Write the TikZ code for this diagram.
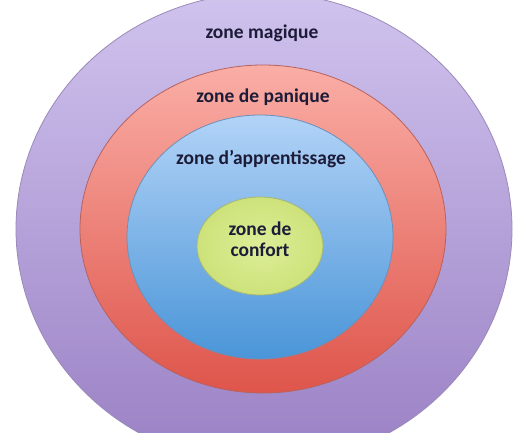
\documentclass[tikz,border=0pt]{standalone}
\usepackage{fontspec}
\setmainfont{Carlito}
\definecolor{purpleTop}{HTML}{D0C3EE}
\definecolor{purpleBot}{HTML}{9A80C4}
\definecolor{purpleEdge}{HTML}{9A8AB8}
\definecolor{redTop}{HTML}{FAAEA6}
\definecolor{redBot}{HTML}{DE554B}
\definecolor{redEdge}{HTML}{B8625E}
\definecolor{blueTop}{HTML}{B2D3F7}
\definecolor{blueBot}{HTML}{4A95D8}
\definecolor{blueEdge}{HTML}{6E8FB8}
\definecolor{greenIn}{HTML}{DDEE98}
\definecolor{greenOut}{HTML}{CDE27A}
\definecolor{greenEdge}{HTML}{A8B870}
\definecolor{labelText}{HTML}{1C1C38}
\tikzset{
  zonelabel/.style={font=\bfseries\fontsize{19.5}{21}\selectfont, text=labelText, inner sep=0pt, align=center},
  zoneedge/.style={line width=0.8pt}
}
\begin{document}
\begin{tikzpicture}[x=1pt,y=-1pt]
\useasboundingbox (0,0) rectangle (522,433);
\clip (0,0) rectangle (522,433);
\fill[white] (0,0) rectangle (522,433);
\shade[top color=purpleTop, bottom color=purpleBot, draw=purpleEdge, zoneedge] (264,229) ellipse [x radius=248, y radius=236];
\shade[top color=redTop, bottom color=redBot, draw=redEdge, zoneedge] (263,229) ellipse [x radius=183, y radius=164];
\shade[top color=blueTop, bottom color=blueBot, draw=blueEdge, zoneedge] (260,237) ellipse [x radius=133, y radius=122];
\shade[inner color=greenIn, outer color=greenOut, draw=greenEdge, zoneedge] (260,246) ellipse [x radius=63, y radius=49];
\node[zonelabel] (magique) at (262,33) {zone magique};
\node[zonelabel] (panique) at (263,97) {zone de panique};
\node[zonelabel] (apprent) at (261,159) {zone d’apprentissage};
\node[zonelabel] (confort) at (260,239) {zone de\\confort};
\end{tikzpicture}
\end{document}
